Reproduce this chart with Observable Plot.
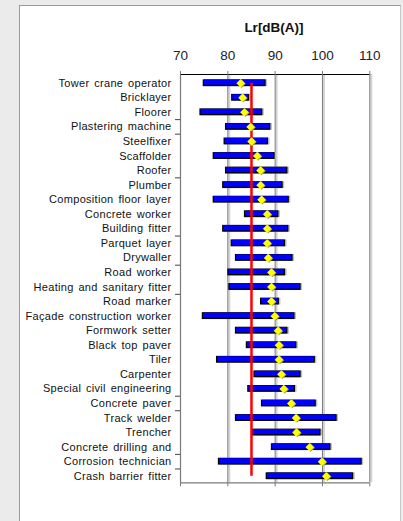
<!DOCTYPE html>
<html>
<head>
<meta charset="utf-8">
<script src="https://cdn.jsdelivr.net/npm/d3@7"></script>
<script src="https://cdn.jsdelivr.net/npm/@observablehq/plot@0.6"></script>
<style>
  html, body { margin: 0; padding: 0; }
  body { width: 403px; height: 521px; background: #ebebeb; position: relative; overflow: hidden; font-family: "Liberation Sans", Arial, sans-serif; }
  #panel { position: absolute; left: 19px; top: 5px; width: 382px; height: 530px; background: #fff; border-left: 1px solid #9a9a9a; border-top: 1px solid #9a9a9a; border-right: 1px solid #c8c8c8; box-sizing: border-box; }
  #title { position: absolute; left: 224px; width: 100px; top: 20px; text-align: center; font: bold 13.5px "Liberation Sans", Arial, sans-serif; color: #111; }
  #chart { position: absolute; left: 0; top: 0; }
  #chart g[aria-label="y-axis tick label"] text { letter-spacing: 0.3px; word-spacing: 1.5px; }
</style>
</head>
<body>
<div id="panel"></div>
<div id="title">Lr[dB(A)]</div>
<div id="chart"></div>
<script>
const categories = [
  "Tower crane operator", "Bricklayer", "Floorer", "Plastering machine", "Steelfixer",
  "Scaffolder", "Roofer", "Plumber", "Composition floor layer", "Concrete worker",
  "Building fitter", "Parquet layer", "Drywaller", "Road worker", "Heating and sanitary fitter",
  "Road marker", "Façade construction worker", "Formwork setter", "Black top paver", "Tiler",
  "Carpenter", "Special civil engineering", "Concrete paver", "Track welder", "Trencher",
  "Concrete drilling and", "Corrosion technician", "Crash barrier fitter"
];
const lowValues = [74.8, 80.8, 74.1, 79.5, 79.2, 76.9, 79.5, 78.9, 76.9, 83.5, 78.9, 80.7, 81.6, 80.0, 80.2, 86.9, 74.6, 81.6, 83.9, 77.6, 85.5, 84.2, 87.1, 81.6, 85.0, 89.2, 78.0, 88.1];
const highValues = [88.1, 84.6, 87.4, 89.1, 88.6, 90.0, 92.7, 91.7, 93.0, 90.8, 92.9, 92.2, 93.8, 92.2, 95.5, 90.9, 94.2, 92.7, 94.6, 98.5, 95.5, 94.3, 98.7, 103.1, 99.7, 101.8, 108.4, 106.6];
const meanValues = [82.7, 83.1, 83.5, 84.8, 85.0, 86.2, 86.9, 86.9, 87.1, 88.3, 88.3, 88.3, 88.5, 89.2, 89.2, 89.2, 89.9, 90.6, 90.8, 90.8, 91.3, 91.8, 93.4, 94.4, 94.5, 97.3, 99.9, 100.8];
const limitValue = 85;
const xTicks = [70, 80, 90, 100, 110];
const gridValues = [80, 90, 100, 110];
const yTickMarks = [2.5, 3.5, 6.5, 10.5, 12.5, 14.5, 21.5, 22.5, 25.5, 26.5];

const rows = categories.map((c, i) => ({cat: c, i, lo: lowValues[i], hi: highValues[i], mean: meanValues[i]}));
const half = 0.235;

const chart = Plot.plot({
  width: 403,
  height: 500,
  marginLeft: 180,
  marginRight: 33.7,
  marginTop: 74,
  marginBottom: 17.7,
  style: {background: "transparent", overflow: "visible", fontFamily: "'Liberation Sans', Arial, sans-serif"},
  x: {domain: [70, 110]},
  y: {domain: [-0.6, 27.45], range: [74, 482.3]},
  marks: [
    Plot.ruleX(gridValues, {stroke: "#d4d4d4", strokeWidth: 2, dx: 1.5}),
    Plot.ruleX(gridValues, {stroke: "#7a7a7a", strokeWidth: 1}),
    Plot.ruleX([70], {stroke: "#7a7a7a", strokeWidth: 1.2}),
    Plot.ruleY([-0.6], {stroke: "#000", strokeWidth: 1}),
    Plot.ruleY([27.45], {stroke: "#7a7a7a", strokeWidth: 1.2}),
    Plot.axisX({anchor: "top", ticks: xTicks, tickSize: 4, tickPadding: 11, fontSize: 13.5, stroke: "#7a7a7a", fill: "#222", label: null}),
    Plot.axisX({anchor: "bottom", ticks: xTicks, tickSize: 4, tickFormat: () => "", stroke: "#7a7a7a", label: null}),
    Plot.axisY({ticks: d3.range(categories.length), tickFormat: i => categories[i], tickSize: 0, tickPadding: 9, fontSize: 11, fill: "#111", label: null}),
    Plot.axisY({ticks: yTickMarks, tickSize: 5, tickFormat: () => "", stroke: "#444", label: null}),
    Plot.rect(rows, {x1: "lo", x2: "hi", y1: d => d.i - half, y2: d => d.i + half, fill: "#bdbdbd", dx: 1.5}),
    Plot.rect(rows, {x1: "lo", x2: "hi", y1: d => d.i - half, y2: d => d.i + half, fill: "#000"}),
    Plot.rect(rows, {x1: "lo", x2: "hi", y1: d => d.i - half, y2: d => d.i + half, fill: "#0000ff", insetLeft: 1.2, insetRight: 1.2, insetTop: 0.4, insetBottom: 1.4}),
    Plot.ruleX([limitValue], {y1: 0, y2: categories.length - 1, stroke: "#ff0000", strokeWidth: 2.5}),
    Plot.dot(rows, {x: "mean", y: "i", symbol: "diamond2", r: 3.8, fill: "#a0a060", dx: 1, dy: 0.5}),
    Plot.dot(rows, {x: "mean", y: "i", symbol: "diamond2", r: 3.8, fill: "#ffff00"})
  ]
});
document.getElementById("chart").appendChild(chart);
</script>
</body>
</html>
